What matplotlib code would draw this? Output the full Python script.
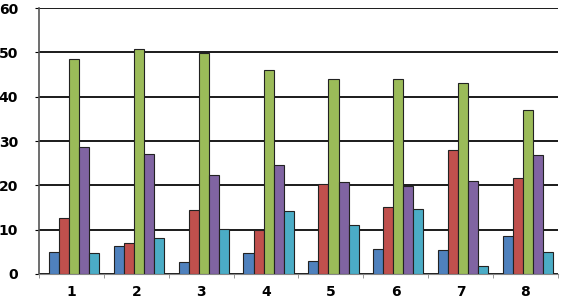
import matplotlib
matplotlib.use('Agg')
import matplotlib.pyplot as plt
import numpy as np

categories = ['1', '2', '3', '4', '5', '6', '7', '8']
blue   = [4.9, 6.2, 2.6, 4.8, 3.0, 5.6, 5.4, 8.5]
red    = [12.7, 6.9, 14.5, 10.0, 20.4, 15.0, 27.9, 21.7]
green  = [48.4, 50.7, 49.8, 46.0, 44.0, 44.0, 43.2, 37.1]
purple = [28.6, 27.0, 22.3, 24.5, 20.8, 19.8, 21.0, 26.8]
cyan   = [4.7, 8.2, 10.2, 14.3, 11.0, 14.7, 1.8, 4.9]

series = [blue, red, green, purple, cyan]
colors = ['#4F81BD', '#C0504D', '#9BBB59', '#8064A2', '#4BACC6']

fig = plt.figure(figsize=(5.61, 3.0), dpi=100)
ax = fig.add_axes([0.0695, 0.087, 0.925, 0.886])

x = np.arange(len(categories))
w = 0.155
for i, vals in enumerate(series):
    ax.bar(x + (i - 2) * w + 0.04, vals, width=w, color=colors[i],
           edgecolor='#222222', linewidth=0.8, zorder=3)

ax.set_xlim(-0.5, 7.5)
ax.set_ylim(0, 60)
ax.set_yticks(range(0, 61, 10))
ax.set_xticks(x)
ax.set_xticklabels(categories)
ax.set_xticks(np.arange(-0.5, 8, 1), minor=True)
ax.grid(axis='y', color='#1a1a1a', linewidth=1.4, zorder=0)

for s in ['top', 'right']:
    ax.spines[s].set_visible(False)
ax.spines['left'].set_color('#555555')
ax.spines['left'].set_linewidth(1.2)
ax.spines['bottom'].set_color('#888888')

ax.tick_params(axis='y', length=3, pad=12, labelsize=10)
ax.tick_params(axis='x', which='major', length=0, pad=8, labelsize=10)
ax.tick_params(axis='x', which='minor', length=3, color='#888888')
for lab in ax.get_xticklabels() + ax.get_yticklabels():
    lab.set_fontweight('bold')

fig.savefig('out.png', dpi=100)
